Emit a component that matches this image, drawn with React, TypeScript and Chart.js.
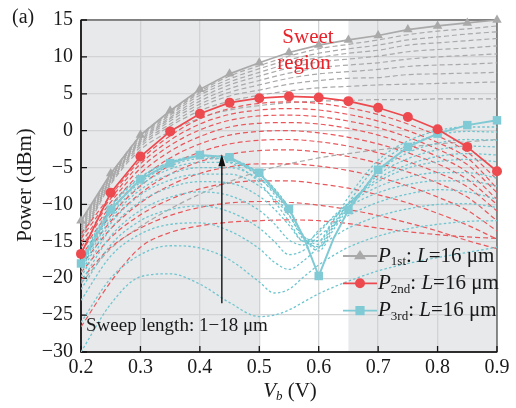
import React, { useEffect, useRef } from 'react';
import { Chart, registerables } from 'chart.js';

Chart.register(...registerables);

// ---------- data ----------
const X_TICKS = [0.2, 0.3, 0.4, 0.5, 0.6, 0.7, 0.8, 0.9];
const Y_TICKS = [-30, -25, -20, -15, -10, -5, 0, 5, 10, 15];
const SWEET = [0.5, 0.65];

const X15 = [0.2, 0.25, 0.3, 0.35, 0.4, 0.45, 0.5, 0.55, 0.6, 0.65, 0.7, 0.75, 0.8, 0.85, 0.9];
const XC = [0.2, 0.25, 0.3, 0.35, 0.4, 0.45, 0.5, 0.525, 0.55, 0.575, 0.6, 0.625, 0.65, 0.7, 0.75, 0.8, 0.85, 0.9];

const P1ST = [-12.2, -5.8, -0.6, 2.7, 5.6, 7.7, 9.2, 10.6, 11.6, 12.3, 12.9, 13.7, 14.2, 14.6, 15.0];
const P2ND = [-16.7, -8.4, -3.5, -0.1, 2.3, 3.8, 4.4, 4.65, 4.5, 4.0, 3.1, 1.85, 0.2, -2.2, -5.5];
const P3RD_X = [0.2, 0.25, 0.3, 0.35, 0.4, 0.45, 0.5, 0.55, 0.575, 0.6, 0.625, 0.65, 0.7, 0.75, 0.8, 0.85, 0.9];
const P3RD = [-18, -10.7, -6.6, -4.4, -3.3, -3.6, -5.7, -10.6, -14.5, -19.7, -14.6, -10.75, -5.3, -2.2, -0.4, 0.75, 1.4];

// sweep curves (L = 1..18 um), P1st on X15
const P1_SWEEP = [
  [-12.4, -6.0, -0.7, 2.5, 5.3, 7.4, 8.8, 10.1, 11.1, 11.7, 12.3, 13.0, 13.5, 13.8, 14.2],
  [-12.7, -6.2, -0.9, 2.3, 5.1, 7.0, 8.4, 9.6, 10.5, 11.1, 11.6, 12.3, 12.7, 13.1, 13.4],
  [-13.0, -6.3, -1.1, 2.1, 4.8, 6.6, 7.9, 9.1, 9.9, 10.5, 10.9, 11.6, 11.9, 12.2, 12.5],
  [-13.3, -6.5, -1.3, 1.8, 4.4, 6.2, 7.4, 8.5, 9.3, 9.7, 10.1, 10.7, 11.0, 11.2, 11.5],
  [-13.6, -6.6, -1.5, 1.6, 4.0, 5.7, 6.8, 7.8, 8.5, 8.9, 9.2, 9.7, 10.0, 10.2, 10.4],
  [-13.9, -6.8, -1.7, 1.3, 3.6, 5.2, 6.2, 7.1, 7.7, 8.0, 8.3, 8.7, 8.9, 9.0, 9.2],
  [-14.2, -6.9, -1.9, 0.9, 3.2, 4.7, 5.5, 6.3, 6.8, 7.1, 7.2, 7.6, 7.7, 7.8, 7.9],
  [-14.5, -7.1, -2.2, 0.6, 2.7, 4.0, 4.8, 5.4, 5.8, 6.0, 6.2, 6.3, 6.4, 6.5, 6.6],
  [-14.8, -7.3, -2.6, -0.1, 1.7, 2.8, 3.4, 3.8, 4.0, 4.1, 4.2, 4.2, 4.3, 4.3, 4.3],
  [-20.7, -16.0, -13.0, -10.6, -8.6, -6.9, -5.5, -4.5, -3.7, -3.1, -2.6, -2.2, -1.8, -1.5, -1.2],
];

// P2nd on X15
const P2_SWEEP = [
  [-14.0, -8.8, -4.0, -0.7, 1.6, 3.0, 3.7, 3.9, 3.7, 3.1, 2.2, 0.9, -0.7, -2.9, -6.6],
  [-14.6, -9.2, -4.5, -1.3, 0.9, 2.2, 2.8, 3.0, 2.8, 2.2, 1.3, 0.0, -1.6, -3.7, -7.8],
  [-15.2, -9.7, -5.1, -2.0, 0.1, 1.4, 2.0, 2.1, 1.9, 1.3, 0.4, -0.9, -2.5, -4.6, -8.4],
  [-15.8, -10.2, -5.8, -2.8, -0.8, 0.5, 1.0, 1.1, 0.9, 0.3, -0.6, -1.9, -3.5, -5.6, -9.3],
  [-16.4, -10.8, -6.6, -3.7, -1.8, -0.6, -0.1, 0.0, -0.3, -0.9, -1.8, -3.0, -4.5, -6.6, -10.0],
  [-17.0, -11.5, -7.5, -4.7, -2.9, -1.8, -1.3, -1.2, -1.5, -2.1, -3.0, -4.2, -5.7, -7.6, -10.9],
  [-17.6, -12.3, -8.5, -5.9, -4.2, -3.2, -2.7, -2.6, -2.9, -3.5, -4.4, -5.6, -7.1, -9.0, -12.2],
  [-18.3, -13.3, -9.8, -7.4, -5.8, -4.9, -4.5, -4.5, -4.8, -5.4, -6.3, -7.5, -9.0, -10.8, -13.6],
  [-19.2, -14.5, -11.4, -9.3, -7.9, -7.1, -6.8, -6.8, -7.2, -7.8, -8.7, -9.8, -11.2, -12.8, -14.7],
  [-20.2, -15.8, -13.2, -11.5, -10.4, -9.8, -9.6, -9.7, -10.1, -10.7, -11.5, -12.5, -13.6, -14.9, -16.0],
  [-26.6, -20.5, -15.8, -13.8, -12.9, -12.4, -12.2, -12.1, -12.2, -12.6, -13.2, -13.7, -14.1, -14.4, -14.6],
];

// P3rd on XC
const P3_SWEEP = [
  [-30, -23.5, -19.8, -19.4, -20.8, -23.3, -25.2, -25.0, -24.3, -23.2, -22.1, -21.2, -20.4, -19.0, -18.0, -17.2, -16.5, -15.8],
  [-26, -20, -16.8, -15.6, -15.9, -17.5, -20.5, -22.0, -21.5, -19.8, -18.2, -16.9, -15.8, -14.3, -13.3, -12.7, -12.3, -12.2],
  [-23, -17, -14, -12.7, -12.5, -13.6, -16.0, -17.8, -18.8, -17.6, -15.8, -14.4, -13.2, -11.6, -10.6, -10.0, -9.9, -10.4],
  [-21.5, -15.5, -12.2, -10.7, -10.2, -11.0, -13.2, -15.0, -16.8, -16.2, -14.3, -12.8, -11.5, -9.7, -8.6, -8.0, -8.3, -9.3],
  [-20.5, -14.3, -10.8, -9.0, -8.3, -8.8, -10.8, -12.6, -14.8, -15.5, -13.5, -11.8, -10.3, -8.4, -7.3, -6.8, -6.8, -7.5],
  [-19.8, -13.3, -9.6, -7.7, -6.9, -7.1, -8.9, -10.6, -12.8, -15.0, -13.8, -11.6, -9.9, -7.6, -6.3, -5.7, -5.7, -6.4],
  [-19.2, -12.6, -8.7, -6.7, -5.9, -5.9, -7.5, -9.2, -11.5, -14.4, -14.9, -12.0, -9.8, -6.9, -5.1, -4.2, -3.9, -4.2],
  [-18.8, -12.0, -8.0, -5.9, -5.0, -5.0, -6.6, -8.3, -10.8, -14.3, -15.4, -12.6, -10.0, -6.5, -4.6, -3.5, -3.1, -3.3],
  [-18.5, -11.5, -7.4, -5.2, -4.3, -4.3, -6.0, -7.8, -10.5, -14.4, -15.9, -13.0, -10.3, -6.0, -3.8, -2.6, -2.1, -2.2],
  [-18.3, -11.1, -7.0, -4.8, -3.8, -3.9, -5.8, -7.9, -10.6, -14.5, -16.3, -13.4, -10.5, -5.6, -3.0, -1.7, -1.2, -1.3],
  [-17.8, -10.5, -6.4, -4.3, -3.4, -3.9, -6.3, -8.6, -11.4, -14.8, -15.7, -12.9, -9.8, -4.6, -2.0, -0.6, -0.1, -0.2],
  [-17.5, -10.3, -6.3, -4.3, -3.5, -4.3, -7.0, -9.5, -12.3, -15.0, -15.0, -12.2, -9.0, -4.0, -1.4, 0.0, 0.5, 0.5],
];

const ARROW_X = 0.437;
const ARROW_Y = [-23.4, -3.2];

// ---------- styles ----------
const FONT = "'Liberation Serif','Times New Roman',Times,serif";
const GRAY = '#a9a9a9';
const RED = '#ec4a4f';
const RED_D = '#e8575b';
const CYAN = '#7fcad4';
const CYAN_D = '#6fc5cf';
const BG = '#e8e9eb';
const GRID = '#d2d3d5';

function mk(xs: number[], ys: number[]) {
  return xs.map((x, i) => ({ x, y: ys[i] }));
}

type Part = { t: string; it?: boolean; sub?: boolean };
function drawRich(ctx: CanvasRenderingContext2D, x: number, y: number, parts: Part[], size: number) {
  let cx = x;
  for (const p of parts) {
    const fs = p.sub ? Math.round(size * 0.62) : size;
    ctx.font = `${p.it ? 'italic ' : ''}${fs}px ${FONT}`;
    ctx.fillText(p.t, cx, p.sub ? y + size * 0.28 : y);
    cx += ctx.measureText(p.t).width;
  }
  return cx - x;
}
function richWidth(ctx: CanvasRenderingContext2D, parts: Part[], size: number) {
  let w = 0;
  for (const p of parts) {
    const fs = p.sub ? Math.round(size * 0.62) : size;
    ctx.font = `${p.it ? 'italic ' : ''}${fs}px ${FONT}`;
    w += ctx.measureText(p.t).width;
  }
  return w;
}

function drawMarker(ctx: CanvasRenderingContext2D, style: string, x: number, y: number, r: number) {
  ctx.beginPath();
  if (style === 'circle') {
    ctx.arc(x, y, r, 0, Math.PI * 2);
  } else if (style === 'rect') {
    const s = r * Math.SQRT1_2;
    ctx.rect(x - s, y - s, 2 * s, 2 * s);
  } else {
    ctx.moveTo(x, y - r);
    ctx.lineTo(x - r, y + r * 0.55);
    ctx.lineTo(x + r, y + r * 0.55);
    ctx.closePath();
  }
  ctx.fill();
}

const decorPlugin = {
  id: 'decor',
  beforeDraw(chart: any) {
    const { ctx, chartArea: a, scales } = chart;
    const x = scales.x;
    ctx.save();
    ctx.fillStyle = BG;
    ctx.fillRect(a.left, a.top, a.right - a.left, a.bottom - a.top);
    const x0 = x.getPixelForValue(SWEET[0]);
    const x1 = x.getPixelForValue(SWEET[1]);
    ctx.fillStyle = '#ffffff';
    ctx.fillRect(x0, a.top, x1 - x0, a.bottom - a.top);
    ctx.restore();
  },
  beforeDatasetsDraw(chart: any) {
    const { ctx, chartArea: a, scales } = chart;
    ctx.save();
    ctx.strokeStyle = '#555';
    ctx.lineWidth = 1.3;
    ctx.strokeRect(a.left, a.top, a.right - a.left, a.bottom - a.top);
    ctx.strokeStyle = '#111';
    ctx.lineWidth = 1.6;
    ctx.beginPath();
    ctx.moveTo(a.left, a.top);
    ctx.lineTo(a.left, a.bottom);
    ctx.lineTo(a.right, a.bottom);
    ctx.stroke();
    ctx.lineWidth = 1.3;
    ctx.beginPath();
    for (const v of X_TICKS) {
      const px = scales.x.getPixelForValue(v);
      ctx.moveTo(px, a.bottom);
      ctx.lineTo(px, a.bottom - 6);
    }
    for (const v of Y_TICKS) {
      const py = scales.y.getPixelForValue(v);
      ctx.moveTo(a.left, py);
      ctx.lineTo(a.left + 6, py);
    }
    ctx.stroke();
    ctx.restore();
  },
  afterDraw(chart: any) {
    const { ctx, scales } = chart;
    ctx.save();
    ctx.fillStyle = '#1a1a1a';
    ctx.textBaseline = 'middle';
    ctx.font = `20px ${FONT}`;
    ctx.textAlign = 'left';
    ctx.fillText('(a)', 12, 18);
    ctx.save();
    ctx.translate(25, 185);
    ctx.rotate(-Math.PI / 2);
    ctx.textAlign = 'center';
    ctx.font = `21px ${FONT}`;
    ctx.fillText('Power (dBm)', 0, 0);
    ctx.restore();
    const xt: Part[] = [{ t: 'V', it: true }, { t: 'b', it: true, sub: true }, { t: ' (V)' }];
    ctx.textAlign = 'left';
    const w = richWidth(ctx, xt, 21);
    drawRich(ctx, 290 - w / 2, 391, xt, 21);
    ctx.fillStyle = '#e8232b';
    ctx.textAlign = 'center';
    ctx.font = `21px ${FONT}`;
    ctx.fillText('Sweet', 308, 37);
    ctx.fillText('region', 304, 63);
    ctx.fillStyle = '#1a1a1a';
    ctx.textAlign = 'left';
    ctx.font = `19px ${FONT}`;
    ctx.fillText('Sweep length: 1\u221218 \u03bcm', 86, 326);
    const ax = scales.x.getPixelForValue(ARROW_X);
    const ay0 = scales.y.getPixelForValue(ARROW_Y[0]);
    const ay1 = scales.y.getPixelForValue(ARROW_Y[1]);
    ctx.strokeStyle = '#111';
    ctx.lineWidth = 1.4;
    ctx.beginPath();
    ctx.moveTo(ax, ay0);
    ctx.lineTo(ax, ay1 + 8);
    ctx.stroke();
    ctx.fillStyle = '#111';
    ctx.beginPath();
    ctx.moveTo(ax, ay1);
    ctx.lineTo(ax - 3.5, ay1 + 12);
    ctx.lineTo(ax + 3.5, ay1 + 12);
    ctx.closePath();
    ctx.fill();
    const entries = [
      { c: GRAY, s: 'triangle', sub: '1st', r: 6 },
      { c: RED, s: 'circle', sub: '2nd', r: 5 },
      { c: CYAN, s: 'rect', sub: '3rd', r: 6.5 },
    ];
    entries.forEach((e, i) => {
      const y = 256 + i * 27.3;
      ctx.strokeStyle = e.c;
      ctx.lineWidth = 1.8;
      ctx.beginPath();
      ctx.moveTo(343, y);
      ctx.lineTo(377, y);
      ctx.stroke();
      ctx.fillStyle = e.c;
      drawMarker(ctx, e.s, 360, y, e.r);
      ctx.fillStyle = '#1a1a1a';
      drawRich(ctx, 378, y, [
        { t: 'P', it: true },
        { t: e.sub, sub: true },
        { t: ': ' },
        { t: 'L', it: true },
        { t: '=16 \u03bcm' },
      ], 21);
    });
    ctx.restore();
  },
};

export default function App() {
  const ref = useRef<HTMLCanvasElement>(null);
  useEffect(() => {
    if (!ref.current) return;
    const datasets: any[] = [];
    const isGrid = (v: number) => Math.abs(v * 20 - Math.round(v * 20)) < 1e-6;

    datasets.push({
      data: mk(X15, P1ST), borderColor: GRAY, backgroundColor: GRAY, borderWidth: 1.7,
      pointStyle: 'triangle', pointRadius: 5.5, pointBorderWidth: 0, tension: 0, order: 0, clip: 10,
    });
    datasets.push({
      data: mk(X15, P2ND), borderColor: RED, backgroundColor: RED, borderWidth: 1.7,
      pointStyle: 'circle', pointRadius: 5, pointBorderWidth: 0, tension: 0, order: 0, clip: 10,
    });
    datasets.push({
      data: mk(P3RD_X, P3RD), borderColor: CYAN, backgroundColor: CYAN, borderWidth: 2,
      pointStyle: 'rect', pointRadius: (c: any) => (isGrid(P3RD_X[c.dataIndex]) ? 6 : 0),
      pointBorderWidth: 0, tension: 0, order: 0, clip: 10,
    });
    P1_SWEEP.forEach((ys) => datasets.push({
      data: mk(X15, ys), borderColor: GRAY, borderWidth: 1.2, borderDash: [5, 3],
      pointRadius: 0, cubicInterpolationMode: 'monotone', order: 3,
    }));
    P2_SWEEP.forEach((ys) => datasets.push({
      data: mk(X15, ys), borderColor: RED_D, borderWidth: 1.2, borderDash: [5, 3],
      pointRadius: 0, cubicInterpolationMode: 'monotone', order: 2,
    }));
    P3_SWEEP.forEach((ys) => datasets.push({
      data: mk(XC, ys), borderColor: CYAN_D, borderWidth: 1.3, borderDash: [2.5, 2.2],
      pointRadius: 0, cubicInterpolationMode: 'monotone', order: 1,
    }));

    const tickFont = { family: FONT, size: 20 };
    const chart = new Chart(ref.current, {
      type: 'line',
      data: { datasets },
      plugins: [decorPlugin],
      options: {
        animation: false,
        responsive: false,
        devicePixelRatio: 1,
        parsing: false as any,
        layout: { padding: { left: 0, right: 19, top: 17, bottom: 0 } },
        plugins: { legend: { display: false }, tooltip: { enabled: false } },
        scales: {
          x: {
            type: 'linear', min: 0.2, max: 0.9,
            afterFit: (s: any) => { s.height = 56; },
            afterBuildTicks: (s: any) => { s.ticks = X_TICKS.map((v) => ({ value: v })); },
            ticks: {
              font: tickFont, color: '#1a1a1a', padding: 4, maxRotation: 0, autoSkip: false,
              callback: (v: any) => Number(v).toFixed(1),
            },
            grid: { color: GRID, lineWidth: 1.3, drawTicks: false },
            border: { display: false },
          },
          y: {
            type: 'linear', min: -30, max: 15,
            afterFit: (s: any) => { s.width = 81; },
            afterBuildTicks: (s: any) => { s.ticks = Y_TICKS.map((v) => ({ value: v })); },
            ticks: {
              font: tickFont, color: '#1a1a1a', padding: 8, autoSkip: false,
              callback: (v: any) => String(v).replace('-', '\u2212'),
            },
            grid: { color: GRID, lineWidth: 1.3, drawTicks: false },
            border: { display: false },
          },
        },
      } as any,
    });
    return () => chart.destroy();
  }, []);
  return (
    <div style={{ position: 'fixed', left: 0, top: 0, width: 516, height: 408, background: '#fff' }}>
      <canvas ref={ref} width={516} height={408} style={{ display: 'block', width: 516, height: 408 }} />
    </div>
  );
}
